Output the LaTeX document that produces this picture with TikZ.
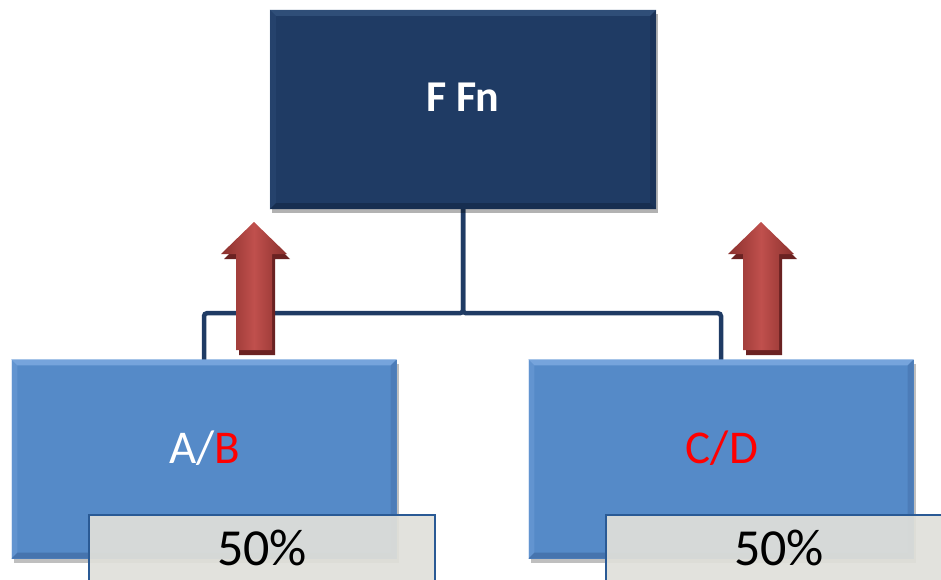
\documentclass[tikz,border=0pt]{standalone}
\usepackage{fontspec}
\setmainfont{Carlito}
\usetikzlibrary{shadows}
\definecolor{navy}{HTML}{1F3B64}
\definecolor{navylight}{HTML}{2F4E78}
\definecolor{navydark}{HTML}{172E50}
\definecolor{boxblue}{HTML}{558AC8}
\definecolor{bluelight}{HTML}{76A4DC}
\definecolor{bluedark}{HTML}{4674AE}
\definecolor{tagfill}{HTML}{E0E0DA}
\definecolor{tagline}{HTML}{2A5A95}
\definecolor{arrowmid}{HTML}{C0504D}
\definecolor{arrowedge}{HTML}{8A302D}
\definecolor{arrowshade}{HTML}{6A2222}
\definecolor{textred}{HTML}{FF0000}

% bevelled edges of a box node: #1 node, #2 light, #3 dark, #4 bevel width
\newcommand\boxbevel[4]{%
  \fill[#2] (#1.north west) -- (#1.north east) -- ([shift={(-#4,#4)}]#1.north east) -- ([shift={(#4,#4)}]#1.north west) -- cycle;
  \fill[#2,opacity=0.4] (#1.north west) -- ([shift={(#4,#4)}]#1.north west) -- ([shift={(#4,-#4)}]#1.south west) -- (#1.south west) -- cycle;
  \fill[#3] (#1.south west) -- (#1.south east) -- ([shift={(-#4,-#4)}]#1.south east) -- ([shift={(#4,-#4)}]#1.south west) -- cycle;
  \fill[#3,opacity=0.6] (#1.north east) -- ([shift={(-#4,#4)}]#1.north east) -- ([shift={(-#4,-#4)}]#1.south east) -- (#1.south east) -- cycle;
}

% block arrow pointing up, tip at the origin of the current scope
\newcommand\uparrowpath{(0,0) -- (33,32) -- (18,32) -- (18,128) -- (-18,128) -- (-18,32) -- (-33,32) -- cycle}

\tikzset{
  topbox/.style={rectangle, fill=navy, minimum width=386pt, minimum height=199pt, inner sep=0pt,
    drop shadow={shadow xshift=2pt, shadow yshift=-4pt, opacity=0.3, fill=black}},
  subbox/.style={rectangle, fill=boxblue, minimum width=385pt, minimum height=199pt, inner sep=0pt,
    drop shadow={shadow xshift=2pt, shadow yshift=-4pt, opacity=0.25, fill=black}},
  frame/.style={rectangle, minimum width=386pt, minimum height=199pt, inner sep=0pt},
  tagbox/.style={rectangle, fill=tagfill, fill opacity=0.93, draw=tagline, line width=1.5pt,
    minimum width=346pt, minimum height=90pt, inner sep=0pt},
  conn/.style={draw=navy, line width=4.5pt, rounded corners=3pt},
  toptext/.style={text=white, font=\fontsize{44}{52}\selectfont\bfseries, inner sep=0pt},
  subtext/.style={font=\fontsize{47}{56}\selectfont, inner sep=0pt},
  tagtext/.style={text=black, font=\fontsize{52}{62}\selectfont, inner sep=0pt},
  arrowbody/.style={left color=arrowedge, right color=arrowedge, middle color=arrowmid},
  arrowshadow/.style={fill=arrowshade},
}

\begin{document}
\begin{tikzpicture}[x=1pt,y=-1pt]
\useasboundingbox (0,0) rectangle (941,580);
\clip (0,0) rectangle (941,580);

% box positions
\coordinate (ffnc) at (463,109.5);
\coordinate (abc) at (204,459);
\coordinate (cdc) at (721,459);

% connectors behind the boxes
\node[frame] (ffnframe) at (ffnc) {};
\coordinate (abtop) at (204,360);
\coordinate (cdtop) at (721,360);
\draw[conn] (ffnframe.south) -- ++(0,104) -| (abtop);
\draw[conn] (ffnframe.south) -- ++(0,104) -| (cdtop);

% lower boxes
\node[subbox] (ab) at (abc) {};
\boxbevel{ab}{bluelight}{bluedark}{6}
\node[subbox] (cd) at (cdc) {};
\boxbevel{cd}{bluelight}{bluedark}{6}
\node[subtext] (ablabel) at (205,448) {\textcolor{white}{A/}\textcolor{textred}{B}};
\node[subtext, text=textred] (cdlabel) at (722,448) {C/D};

% share tags
\node[tagbox] (abtag) at (262,560) {};
\node[tagbox] (cdtag) at (779,560) {};
\node[tagtext] (abshare) at (262,548) {50\%};
\node[tagtext] (cdshare) at (779,548) {50\%};

% upward arrows
\begin{scope}[shift={(257,227)}]
  \fill[arrowshadow] \uparrowpath;
\end{scope}
\begin{scope}[shift={(254,222)}]
  \shade[arrowbody] \uparrowpath;
\end{scope}
\begin{scope}[shift={(764,227)}]
  \fill[arrowshadow] \uparrowpath;
\end{scope}
\begin{scope}[shift={(761,222)}]
  \shade[arrowbody] \uparrowpath;
\end{scope}

% top box
\node[topbox] (ffn) at (ffnc) {};
\boxbevel{ffn}{navylight}{navydark}{6}
\node[toptext] (ffnlabel) at (463,97) {F Fn};
\end{tikzpicture}
\end{document}
